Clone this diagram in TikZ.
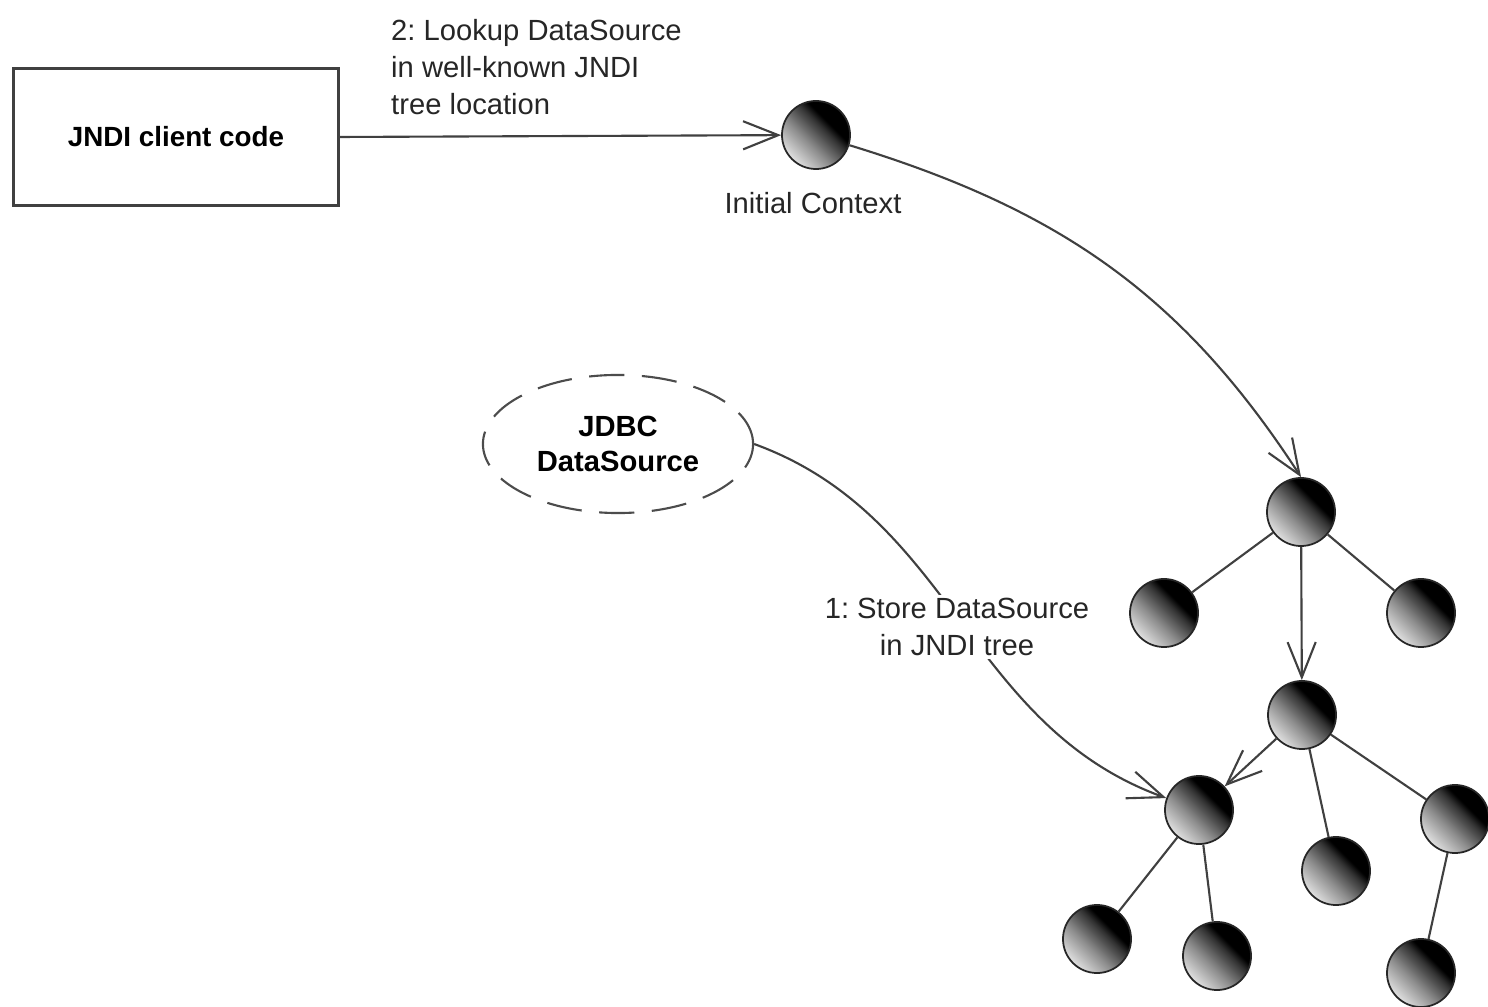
\documentclass[tikz,border=0pt]{standalone}
\usepackage{fontspec}
\setmainfont{Liberation Sans}
\usetikzlibrary{arrows.meta,shapes.geometric}
\frenchspacing

% shading of the tree nodes: light at lower left, black at upper right
\pgfdeclareverticalshading{orbshade}{100bp}{color(0bp)=(black!12); color(25bp)=(black!12); color(42bp)=(black!45); color(57bp)=(black!80); color(63bp)=(black); color(100bp)=(black)}

\tikzset{
  treenode/.style={circle, draw=black!85, line width=0.5pt, minimum size=6.8mm, inner sep=0pt,
    shade, shading=orbshade, shading angle=-45},
  msg/.style={draw=black!75, line width=0.6pt, -{Straight Barb[length=10pt,width=8pt]}},
  link/.style={draw=black!75, line width=0.6pt},
  lbl/.style={font=\fontsize{8.3}{10.5}\selectfont, text=black!85, inner sep=1pt}
}

\begin{document}
\begin{tikzpicture}[x=0.01cm,y=0.01cm]
  \useasboundingbox[fill=white] (0,0) rectangle (1488,1006);

  % Client and data source
  \node[draw=black!75, line width=0.8pt, minimum width=3.24cm, minimum height=1.37cm,
    font=\fontsize{7.9}{10}\selectfont\bfseries] (client) at (176,869) {JNDI client code};
  \node[ellipse, draw=black!70, line width=0.6pt, dash pattern=on 10pt off 5pt,
    minimum width=2.7cm, minimum height=1.38cm, align=center,
    font=\fontsize{8.3}{10}\selectfont\bfseries] (ds) at (618,562) {JDBC\\DataSource};

  % Initial context
  \node[treenode] (ic) at (816,871) {};
  \node[lbl] (ictxt) at (813,803) {Initial Context};

  % JNDI tree
  \node[treenode] (t1) at (1301,494) {};
  \node[treenode] (l1) at (1164,393) {};
  \node[treenode] (r1) at (1421,393) {};
  \node[treenode] (t2) at (1302,291) {};
  \node[treenode] (t3) at (1199,196) {};
  \node[treenode] (c1) at (1336,135) {};
  \node[treenode] (d1) at (1455,187) {};
  \node[treenode] (e1) at (1097,67) {};
  \node[treenode] (f1) at (1217,50) {};
  \node[treenode] (g1) at (1421,33) {};

  \draw[link] (t1) -- (l1);
  \draw[link] (t1) -- (r1);
  \draw[link] (t2) -- (c1);
  \draw[link] (t2) -- (d1);
  \draw[link] (t3) -- (e1);
  \draw[link] (t3) -- (f1);
  \draw[link] (d1) -- (g1);
  \draw[msg] (t1) -- (t2);
  \draw[msg] (t2) -- (t3);

  % Messages
  \draw[msg] (client.east) -- (ic);
  \node[lbl, anchor=west, align=left] (lookuptxt) at (387,939) {2: Lookup DataSource\\in well-known JNDI\\tree location};
  \draw[msg] (ic) to[out=-17,in=123] (t1.north);
  \draw[msg] (ds.east) to[out=-20,in=160] (t3);
  \node[lbl, align=center, fill=white] (storetxt) at (957,379) {1: Store DataSource\\in JNDI tree};

\end{tikzpicture}
\end{document}
